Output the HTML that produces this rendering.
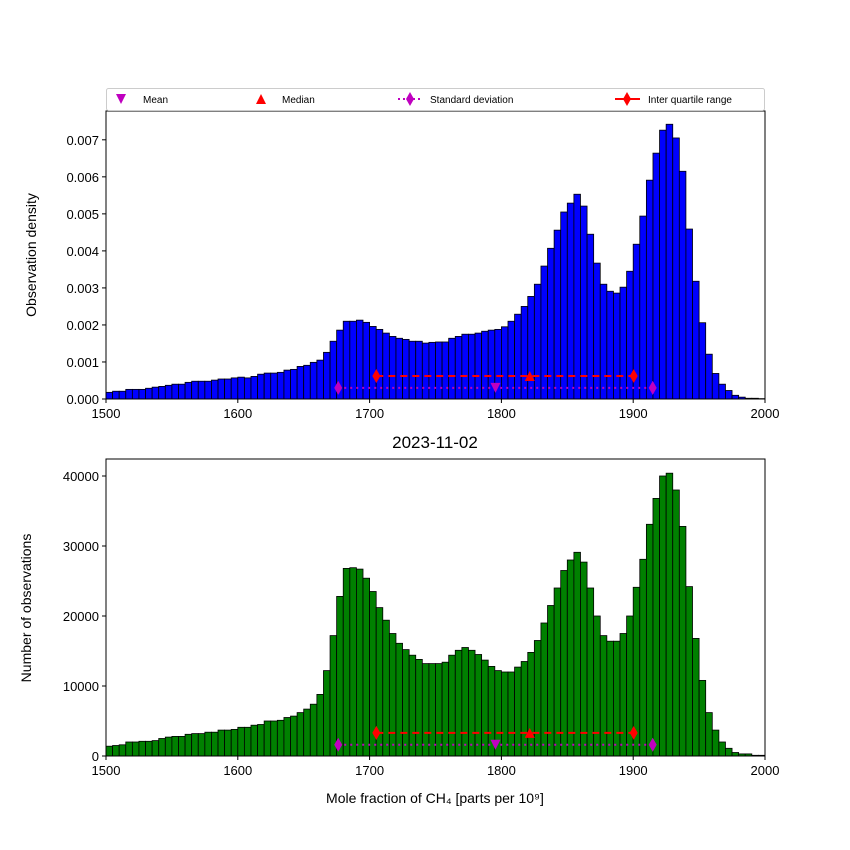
<!DOCTYPE html>
<html><head><meta charset="utf-8"><style>
body{margin:0;background:#fff}
svg{display:block;font-family:"Liberation Sans","DejaVu Sans",sans-serif}
</style></head><body>
<svg id="fig" width="850" height="850" viewBox="0 0 850 850">
<rect width="850" height="850" fill="#fff"/>
<g id="top"></g>
<g id="bot"></g>
<g>
<rect x="106.5" y="88.5" width="658" height="22" fill="#fff" stroke="#ccc" rx="2"/>
<g>
<path d="M116,94 L126,94 L121,104 Z" fill="#bf00bf"/>
<text x="143" y="103" font-size="10">Mean</text></g>
<g>
<path d="M256,104 L266,104 L261,94 Z" fill="#f00"/>
<text x="282" y="103" font-size="10">Median</text></g>
<g>
<line x1="398" y1="99" x2="422" y2="99" stroke="#bf00bf" stroke-width="2" stroke-dasharray="2,3"/>
<path d="M410,92 L414,99 L410,106 L406,99 Z" fill="#bf00bf"/>
<text x="430" y="103" font-size="10">Standard deviation</text></g>
<g>
<line x1="615" y1="99" x2="640" y2="99" stroke="#f00" stroke-width="2"/>
<path d="M627,92 L631,99 L627,106 L623,99 Z" fill="#f00"/>
<text x="648" y="103" font-size="10">Inter quartile range</text></g>
</g>
<text x="435" y="448" font-size="17" text-anchor="middle">2023-11-02</text>
<text x="435" y="803" font-size="14" text-anchor="middle">Mole fraction of CH₄ [parts per 10⁹]</text>
<text transform="translate(36,255) rotate(-90)" font-size="14" text-anchor="middle">Observation density</text>
<text transform="translate(31,608) rotate(-90)" font-size="14" text-anchor="middle">Number of observations</text>
</svg>
<script>
const binStart = 1500, binWidth = 5;
const densityValues = [0.18,0.21,0.21,0.26,0.26,0.26,0.29,0.32,0.34,0.37,0.40,0.40,0.45,0.48,0.48,0.48,0.51,0.54,0.54,0.57,0.59,0.57,0.61,0.67,0.70,0.70,0.72,0.78,0.80,0.88,0.91,0.99,1.05,1.26,1.56,1.86,2.10,2.10,2.13,2.07,1.96,1.88,1.78,1.69,1.64,1.61,1.56,1.56,1.51,1.53,
1.54,1.54,1.64,1.69,1.75,1.75,1.78,1.83,1.86,1.88,1.95,2.10,2.29,2.50,2.77,3.10,3.59,4.07,4.56,5.05,5.29,5.53,5.21,4.45,3.67,3.10,2.91,2.86,3.02,3.45,4.18,4.94,5.91,6.64,7.26,7.42,7.05,6.15,4.59,3.18,2.06,1.21,0.69,0.40,0.23,0.10,0.05,0.02,0.02,0.01]; // x 1e-3
const countValues = [1.4,1.5,1.6,2.0,2.0,2.1,2.1,2.2,2.5,2.7,2.8,2.8,3.1,3.2,3.2,3.4,3.4,3.7,3.7,3.8,4.1,4.1,4.4,4.5,5.0,5.0,5.1,5.5,5.7,6.2,6.7,7.4,8.8,12.2,17.2,22.8,26.8,26.9,26.7,25.4,23.5,21.2,19.4,17.5,16.1,15.2,14.4,13.8,13.2,13.2,
13.2,13.4,14.4,15.1,15.5,15.1,14.5,13.7,12.8,12.2,12.0,12.0,12.7,13.5,14.8,16.5,19.0,21.5,24.0,26.5,28.0,29.1,27.7,24.0,20.0,17.2,16.4,16.4,17.5,20.0,24.1,28.1,33.1,36.8,40.0,40.4,38.0,32.8,24.2,16.8,10.8,6.2,3.7,2.0,1.1,0.5,0.3,0.3,0.1,0.1]; // x 1000
const xTicks = [1500,1600,1700,1800,1900,2000];
const densityTicks = [0,0.001,0.002,0.003,0.004,0.005,0.006,0.007];
const densityTickLabels = ["0.000","0.001","0.002","0.003","0.004","0.005","0.006","0.007"];
const countTicks = [0,10000,20000,30000,40000];
const statsMean = 1795.5, statsMedian = 1821.5, statsStd = 119.3, statsQ1 = 1705.1, statsQ3 = 1900.4;
const topMarkerLevels = [0.0003, 0.00062];
const botMarkerLevels = [1600, 3300];

const NS = "http://www.w3.org/2000/svg";
const X0 = 106, X1 = 765;
const xs = v => X0 + (v - 1500) / 500 * (X1 - X0);
function mk(tag, attrs, parent){ const e = document.createElementNS(NS, tag); for (const k in attrs) e.setAttribute(k, attrs[k]); parent.appendChild(e); return e; }

function panel(g, yTop, yBot, yMax, vals, scale, color, ticks, labels, levels, prefix){
  const ys = v => yBot - v / yMax * (yBot - yTop);
  vals.forEach((v, i) => {
    const x0 = xs(binStart + i * binWidth), x1 = xs(binStart + (i + 1) * binWidth);
    const r = mk("rect", {x: x0, y: ys(v * scale), width: x1 - x0, height: yBot - ys(v * scale), fill: color, stroke: "#000", "stroke-width": 0.8}, g);
    
    
  });
  // stats markers
  const yStd = ys(levels[0]), yIqr = ys(levels[1]);
  const l1 = mk("line", {x1: xs(statsMean - statsStd), x2: xs(statsMean + statsStd), y1: yStd, y2: yStd, stroke: "#bf00bf", "stroke-width": 2, "stroke-dasharray": "2,4"}, g);
  
  
  const l2 = mk("line", {x1: xs(statsQ1), x2: xs(statsQ3), y1: yIqr, y2: yIqr, stroke: "#f00", "stroke-width": 2, "stroke-dasharray": "7,5"}, g);
  
  
  [[statsMean - statsStd, yStd, "#bf00bf"], [statsMean + statsStd, yStd, "#bf00bf"], [statsQ1, yIqr, "#f00"], [statsQ3, yIqr, "#f00"]].forEach(d => {
    const x = xs(d[0]), y = d[1];
    const p = mk("path", {d: `M${x},${y-7} L${x+4},${y} L${x},${y+7} L${x-4},${y} Z`, fill: d[2]}, g);
    
    
  });
  const xm = xs(statsMean);
  const mm = mk("path", {d: `M${xm-5},${yStd-5} L${xm+5},${yStd-5} L${xm},${yStd+5} Z`, fill: "#bf00bf"}, g);
  
  
  const xd = xs(statsMedian);
  const md = mk("path", {d: `M${xd-5},${yIqr+5} L${xd+5},${yIqr+5} L${xd},${yIqr-5} Z`, fill: "#f00"}, g);
  
  
  // frame
  const fr = mk("rect", {x: X0, y: yTop, width: X1 - X0, height: yBot - yTop, fill: "none", stroke: "#000", "stroke-width": 1}, g);
  
  
  xTicks.forEach(t => {
    const x = xs(t);
    const tl = mk("line", {x1: x, x2: x, y1: yBot, y2: yBot + 4, stroke: "#000"}, g);
    
    
    const tx = mk("text", {x: x, y: yBot + 19, "font-size": 13, "text-anchor": "middle"}, g);
    tx.textContent = t;
    
    
  });
  ticks.forEach((t, i) => {
    const y = ys(t);
    const tl = mk("line", {x1: X0 - 4, x2: X0, y1: y, y2: y, stroke: "#000"}, g);
    
    
    const tx = mk("text", {x: X0 - 7, y: y + 5, "font-size": 13, "text-anchor": "end"}, g);
    tx.textContent = labels[i];
    
    
  });
}
panel(document.getElementById("top"), 111, 399, 0.007778, densityValues, 0.001, "#0000ff", densityTicks, densityTickLabels, topMarkerLevels, "density");
panel(document.getElementById("bot"), 459, 756, 42428, countValues, 1000, "#008000", countTicks, countTicks.map(String), botMarkerLevels, "count");
</script>
</body></html>
